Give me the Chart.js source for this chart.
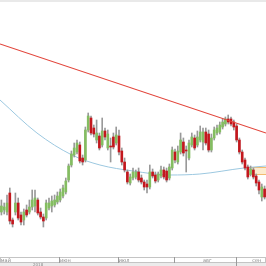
<!DOCTYPE html>
<html>
<head>
<meta charset="utf-8">
<script src="https://cdn.jsdelivr.net/npm/chart.js@4"></script>
<style>
html,body{margin:0;padding:0;background:#fff;}
canvas{display:block;}
</style>
</head>
<body>
<canvas id="c" width="266" height="266"></canvas>
<script>
// candles, one per trading day
const opens =[48,50,48,67,40,48,57,45,40,50,48,53,54,60,48,43,42,52,54,55,58,60,64,68,80,95,105,108,115,102,100,130,142,132,120,124,115,129,112,114,123,117,124,109,98,88,77,82,83,88,82,78,76,73,88,85,80,84,90,89,82,92,108,98,108,118,110,102,115,122,115,120,118,128,126,110,122,127,128,133,136,141,141,138,134,120,108,100,93,86,90,84,78,63,71];
const closes=[54,53,57,39,36,57,42,38,48,45,53,60,62,47,43,39,57,57,59,60,64,68,72,79,94,106,112,117,99,98,130,144,127,126,127,112,129,123,126,113,113,125,108,98,90,78,83,88,88,80,78,73,73,88,84,79,86,90,83,80,93,110,100,109,120,107,109,117,123,112,123,128,128,117,110,122,130,132,135,138,141,138,136,133,120,108,98,92,83,91,83,77,70,73,63];
const highs =[60,57,65,72,42,67,62,48,51,55,60,70,70,62,52,46,60,62,64,65,68,71,75,82,96,109,117,120,118,105,133,147,144,135,140,127,142,132,130,122,127,133,130,112,102,90,86,92,90,92,85,80,80,95,91,88,88,94,93,92,96,113,111,114,127,122,114,120,127,125,129,134,132,132,130,126,133,135,138,141,143,145,143,140,136,122,110,102,95,94,92,86,80,76,74];
const lows  =[45,46,45,36,33,45,40,35,35,43,46,50,48,45,41,33,40,50,48,53,56,58,62,66,78,93,103,106,97,95,98,128,125,123,117,110,113,120,110,98,111,115,105,95,88,76,75,80,81,78,76,70,67,71,82,77,78,82,81,78,80,90,97,96,106,104,88,100,113,110,113,118,110,115,108,108,120,125,126,131,134,136,134,130,118,106,96,90,81,84,81,74,66,59,61];

// moving average
const maX=[-0.5,12.7,25.2,35.2,47.0,60.2,70.9,86.6,94.5];
const maY=[160,127,105,95,89,85,86,92,94];

// red trend line
const trendX=[-0.5,94.5];
const trendY=[216,127];

// orange zone at the right
const zoneFrom=87.7;
const zoneLow=86;
const zoneHigh=93;

// axis strip
const monthLabels=["май","июн","июл","авг","сен"];
const monthLabelAt=[-0.2,20.9,41.9,72,89.6];
const monthBreaks=[20.6,41.6,61.6,83.8];
const yearLabel="2018";

const bodyColors=opens.map((o,i)=>closes[i]>o?"#84bd61":closes[i]<o?"#c3171d":"#c8c8c8");

const extras={
id:"extras",
beforeDatasetsDraw(chart){
const {ctx,scales:{x,y}}=chart;
const x0=x.getPixelForValue(zoneFrom);
const yt=y.getPixelForValue(zoneHigh), yb=y.getPixelForValue(zoneLow);
ctx.save();
ctx.fillStyle="rgba(250,215,160,0.5)";
ctx.fillRect(x0,yt,266-x0,yb-yt);
ctx.strokeStyle="#f3bb70";
ctx.lineWidth=1;
ctx.beginPath();
ctx.moveTo(x0,Math.round(yt)+0.5);ctx.lineTo(266,Math.round(yt)+0.5);
ctx.moveTo(x0,Math.round(yb)+0.5);ctx.lineTo(266,Math.round(yb)+0.5);
ctx.stroke();
ctx.restore();
},
afterDraw(chart){
const {ctx,scales:{x}}=chart;
ctx.save();
// top shade
ctx.fillStyle="#e9e9e9";
ctx.fillRect(0,0,266,2);
// bottom strip
ctx.fillStyle="#ebebeb";
ctx.fillRect(0,257,266,9);
ctx.fillStyle="#fff";
ctx.fillRect(0,257,266,6);
ctx.strokeStyle="#c4c4c4";
ctx.lineWidth=1;
ctx.strokeRect(0.5,257.5,265,5);
ctx.strokeStyle="#9a9a9a";
ctx.beginPath();
monthBreaks.forEach((b,i)=>{
const px=Math.round(x.getPixelForValue(b))+0.5;
ctx.moveTo(px,257);ctx.lineTo(px,i==monthBreaks.length-1?266:263);
});
ctx.stroke();
ctx.fillStyle="#8a8a8a";
ctx.font="5px 'DejaVu Sans'";
ctx.textBaseline="middle";
monthLabels.forEach((t,i)=>{
ctx.fillText(t,x.getPixelForValue(monthLabelAt[i]),260.3);
});
ctx.font="4px 'DejaVu Sans'";
ctx.fillText(yearLabel,33,264.6);
ctx.restore();
}
};

new Chart(document.getElementById("c"),{
type:"bar",
data:{datasets:[
{type:"line",data:trendX.map((v,i)=>({x:v,y:trendY[i]})),borderColor:"#e2443a",borderWidth:1.1,pointRadius:0,order:0},
{type:"bar",data:opens.map((o,i)=>({x:i,y:[o,closes[i]]})),backgroundColor:bodyColors,barThickness:2,minBarLength:1,grouped:false,order:1},
{type:"bar",data:highs.map((h,i)=>({x:i,y:[lows[i],h]})),backgroundColor:"#999",barThickness:1,grouped:false,order:2},
{type:"line",data:maX.map((v,i)=>({x:v,y:maY[i]})),borderColor:"#9cc8e0",borderWidth:1,pointRadius:0,cubicInterpolationMode:"monotone",order:3}
]},
options:{
responsive:false,
animation:false,
layout:{padding:{left:0,right:0,top:0,bottom:9}},
plugins:{legend:{display:false},tooltip:{enabled:false}},
scales:{
x:{type:"linear",min:-0.5,max:94.5,offset:false,display:false},
y:{min:3,max:260,display:false}
}
},
plugins:[extras]
});
</script>
</body>
</html>
